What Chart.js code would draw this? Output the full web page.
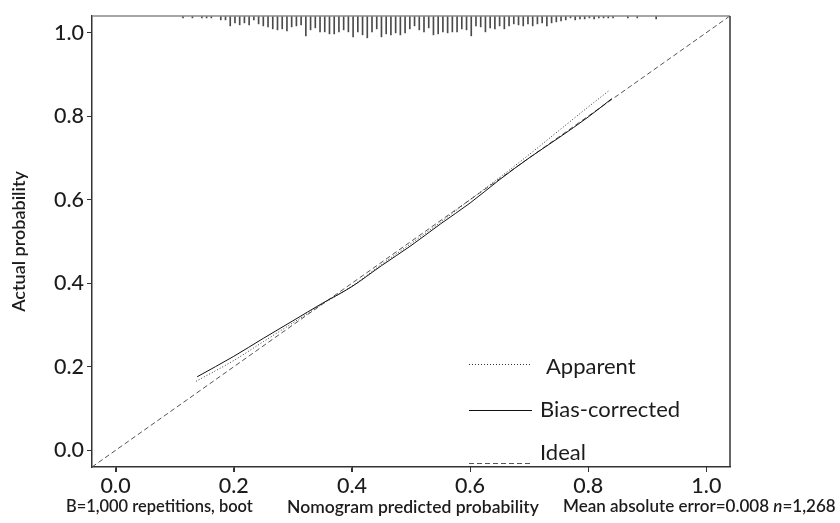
<!DOCTYPE html>
<html>
<head>
<meta charset="utf-8">
<script src="https://cdn.jsdelivr.net/npm/chart.js@4.4.1/dist/chart.umd.min.js"></script>
<style>
  html, body { margin: 0; padding: 0; background: #ffffff; }
  #wrap { width: 840px; height: 523px; }
</style>
</head>
<body>
<div id="wrap"><canvas id="c" width="840" height="523"></canvas></div>
<script>
// ---------------- data ----------------
const tickValues = [0.0, 0.2, 0.4, 0.6, 0.8, 1.0];
const axisMin = -0.04;
const axisMax = 1.04;

const apparentX = [0.136, 0.20, 0.25, 0.30, 0.35, 0.40, 0.45, 0.50, 0.55, 0.60, 0.65, 0.70, 0.75, 0.80, 0.836];
const apparentY = [0.165, 0.215, 0.260, 0.305, 0.350, 0.393, 0.445, 0.495, 0.546, 0.600, 0.653, 0.708, 0.765, 0.822, 0.862];

const biasX = [0.138, 0.20, 0.25, 0.30, 0.35, 0.40, 0.45, 0.50, 0.55, 0.60, 0.65, 0.70, 0.75, 0.80, 0.840];
const biasY = [0.176, 0.225, 0.268, 0.310, 0.352, 0.392, 0.442, 0.490, 0.542, 0.592, 0.648, 0.700, 0.748, 0.798, 0.842];

const idealX = [-0.04, 1.04];
const idealY = [-0.04, 1.04];

// spike histogram of predicted probabilities (relative frequencies)
const spikeX = [
  0.114, 0.130, 0.146, 0.154, 0.162,
  0.178, 0.186, 0.194, 0.202, 0.210, 0.218, 0.226, 0.234, 0.242, 0.250,
  0.258, 0.266, 0.274, 0.282, 0.290, 0.298, 0.306, 0.314, 0.322, 0.330,
  0.338, 0.346, 0.354, 0.362, 0.370, 0.378, 0.386, 0.394, 0.402, 0.410,
  0.418, 0.426, 0.434, 0.442, 0.450, 0.458, 0.466, 0.474, 0.482, 0.490,
  0.498, 0.506, 0.514, 0.522, 0.530, 0.538, 0.546, 0.554, 0.562, 0.570,
  0.578, 0.586, 0.594, 0.602, 0.610, 0.618, 0.626, 0.634, 0.642, 0.650,
  0.658, 0.666, 0.674, 0.682, 0.690, 0.698, 0.706, 0.714, 0.722, 0.730,
  0.738, 0.746, 0.754, 0.762, 0.770, 0.778, 0.786, 0.794, 0.802, 0.810,
  0.818, 0.826, 0.834, 0.842, 0.867, 0.883, 0.915
];
const spikeCounts = [
  2, 2, 2, 2, 2,
  4, 4, 10, 7, 9, 7, 9, 4, 8, 10,
  11, 13, 14, 13, 15, 11, 10, 9, 20, 14,
  12, 16, 16, 18, 18, 16, 14, 16, 21, 16,
  19, 22, 16, 13, 21, 18, 19, 17, 19, 17,
  13, 10, 14, 16, 12, 19, 18, 16, 17, 16,
  16, 13, 14, 20, 10, 11, 16, 12, 13, 10,
  13, 10, 8, 9, 10, 8, 10, 8, 7, 10,
  7, 6, 5, 4, 2, 4, 3, 3, 2, 3,
  2, 2, 2, 2, 2, 2, 3
];

const legendLabels = ['Apparent', 'Bias-corrected', 'Ideal'];
const xAxisTitle = 'Nomogram predicted probability';
const yAxisTitle = 'Actual probability';
const footLeft = 'B=1,000 repetitions, boot';
const footRightA = 'Mean absolute error=0.008 ';
const footRightN = 'n';
const footRightB = '=1,268';

// ---------------- styles ----------------
const FONT = 'Lato, "Open Sans", sans-serif';
const TEXT = '#1c1c1c';
const spikeUnit = (axisMax - axisMin) / 452; // one pixel of plot height per count

const toPts = (xs, ys) => xs.map((x, i) => ({ x: x, y: ys[i] }));

const datasets = [
  {
    type: 'bar', label: 'spikes',
    data: spikeX.map((x, i) => ({ x: x, y: [axisMax, axisMax - spikeCounts[i] * spikeUnit] })),
    backgroundColor: '#4a4a4a', borderWidth: 0, barThickness: 1, order: 4
  },
  {
    type: 'line', label: legendLabels[2], data: toPts(idealX, idealY),
    borderColor: '#555555', borderWidth: 1, borderDash: [5, 3], pointRadius: 0, order: 3
  },
  {
    type: 'line', label: legendLabels[0], data: toPts(apparentX, apparentY),
    borderColor: '#333333', borderWidth: 1, borderDash: [1, 2], pointRadius: 0,
    cubicInterpolationMode: 'monotone', order: 2
  },
  {
    type: 'line', label: legendLabels[1], data: toPts(biasX, biasY),
    borderColor: '#111111', borderWidth: 1, pointRadius: 0,
    cubicInterpolationMode: 'monotone', order: 1
  }
];

const framePlugin = {
  id: 'frame',
  afterDatasetsDraw(chart) {
    const { ctx, chartArea: a } = chart;
    const xs = chart.scales.x;
    ctx.save();
    ctx.lineWidth = 1.5;
    ctx.strokeStyle = '#8a8a8a';
    ctx.beginPath(); ctx.moveTo(a.left, a.top); ctx.lineTo(a.right, a.top); ctx.stroke();
    ctx.strokeStyle = '#333333';
    ctx.beginPath(); ctx.moveTo(a.right, a.top); ctx.lineTo(a.right, a.bottom); ctx.stroke();
    // x-axis tick marks
    ctx.lineWidth = 1;
    tickValues.forEach(v => {
      const px = Math.round(xs.getPixelForValue(v)) + 0.5;
      ctx.beginPath(); ctx.moveTo(px, a.bottom); ctx.lineTo(px, a.bottom + 5); ctx.stroke();
    });
    ctx.restore();
  }
};

const legendPlugin = {
  id: 'customLegend',
  afterDraw(chart) {
    const { ctx } = chart;
    const rows = [
      { ds: chart.data.datasets[2], y: 364, tx: 546, ty: 367 },
      { ds: chart.data.datasets[3], y: 410, tx: 540, ty: 410 },
      { ds: chart.data.datasets[1], y: 463, tx: 540, ty: 453 }
    ];
    ctx.save();
    rows.forEach(r => {
      ctx.strokeStyle = r.ds.borderColor;
      ctx.lineWidth = 1;
      ctx.setLineDash(r.ds.borderDash || []);
      ctx.beginPath(); ctx.moveTo(469, r.y + 0.5); ctx.lineTo(532, r.y + 0.5); ctx.stroke();
      ctx.setLineDash([]);
      ctx.fillStyle = TEXT;
      ctx.font = '22px ' + FONT;
      ctx.textBaseline = 'middle';
      ctx.textAlign = 'left';
      ctx.fillText(r.ds.label, r.tx, r.ty);
    });
    ctx.restore();
  }
};

// draw a semibold text run starting at x0 and sized to span the given width
function fitText(ctx, parts, x0, width, y) {
  const base = 16;
  let w = 0;
  parts.forEach(p => { ctx.font = (p.italic ? 'italic ' : '') + '600 ' + base + 'px ' + FONT; w += ctx.measureText(p.t).width; });
  const size = base * width / w;
  let x = x0;
  parts.forEach(p => {
    ctx.font = (p.italic ? 'italic ' : '') + '600 ' + size + 'px ' + FONT;
    ctx.fillText(p.t, x, y);
    x += ctx.measureText(p.t).width;
  });
}

const footerPlugin = {
  id: 'footer',
  afterDraw(chart) {
    const { ctx } = chart;
    ctx.save();
    ctx.fillStyle = TEXT;
    ctx.textBaseline = 'middle';
    ctx.textAlign = 'left';
    const y = 507;
    fitText(ctx, [{ t: footLeft }], 66, 187, y);
    fitText(ctx, [{ t: xAxisTitle }], 287, 252, y);
    fitText(ctx, [{ t: footRightA }, { t: footRightN, italic: true }, { t: footRightB }], 563, 273, y);
    ctx.restore();
  }
};

const tickFmt = v => Number(v).toFixed(1);

new Chart(document.getElementById('c'), {
  type: 'scatter',
  data: { datasets: datasets },
  options: {
    responsive: false,
    animation: false,
    devicePixelRatio: 1,
    layout: { padding: { left: 0, top: 15, right: 110, bottom: 0 } },
    plugins: { legend: { display: false }, tooltip: { enabled: false } },
    scales: {
      x: {
        type: 'linear', min: axisMin, max: axisMax, offset: false,
        afterFit: s => { s.height = 56; },
        afterBuildTicks: s => { s.ticks = tickValues.map(v => ({ value: v })); },
        ticks: { callback: tickFmt, color: TEXT, font: { family: FONT, size: 21.5, weight: '500' }, padding: 1, maxRotation: 0, autoSkip: false },
        grid: { offset: false, drawOnChartArea: false, drawTicks: true, tickLength: 5, color: '#333333', lineWidth: 1 },
        border: { display: true, color: '#333333', width: 1.5 }
      },
      y: {
        type: 'linear', min: axisMin, max: axisMax,
        afterFit: s => { s.width = 92; },
        afterBuildTicks: s => { s.ticks = tickValues.map(v => ({ value: v })); },
        ticks: { callback: tickFmt, color: TEXT, font: { family: FONT, size: 21.5, weight: '500' }, padding: 3, autoSkip: false },
        grid: { offset: false, drawOnChartArea: false, drawTicks: true, tickLength: 5, color: '#333333', lineWidth: 1 },
        border: { display: true, color: '#333333', width: 1.5 },
        title: { display: true, text: yAxisTitle, color: TEXT, font: { family: FONT, size: 18, weight: '600' }, padding: { top: 8, bottom: 0 } }
      }
    }
  },
  plugins: [framePlugin, legendPlugin, footerPlugin]
});
</script>
</body>
</html>
